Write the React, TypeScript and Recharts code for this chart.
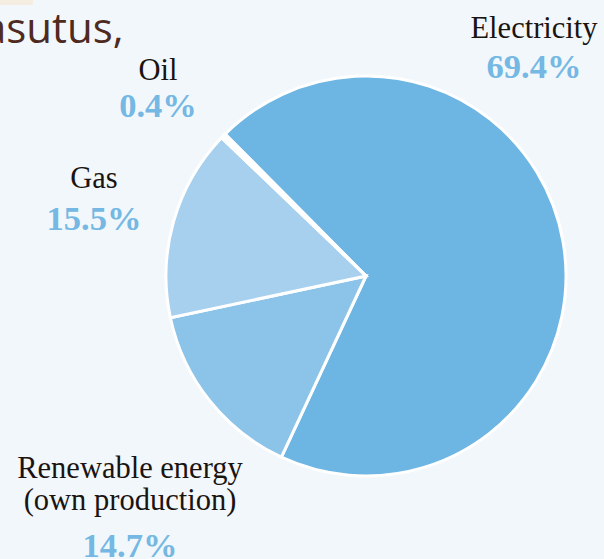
import React from "react";
import { PieChart, Pie, Cell } from "recharts";

// energy consumption shares, clockwise from the oil/electricity boundary
const categories = ["Electricity", "Renewable energy", "Gas", "Oil"];
const shares = [69.4, 14.7, 15.5, 0.4];
const nameLines = [
    ["Electricity"],
    ["Renewable energy", "(own production)"],
    ["Gas"],
    ["Oil"],
];
const percentLabels = ["69.4%", "14.7%", "15.5%", "0.4%"];
const sliceColors = ["#6db5e2", "#8cc3e8", "#a7cfee", "#ffffff"];

// label placement relative to the pie centre (layout only)
const labelAnchors = [
    { dx: 168, nameY: -238, pctY: -198 },
    { dx: -236, nameY: 202, pctY: 281 },
    { dx: -272, nameY: -88, pctY: -46 },
    { dx: -208, nameY: -196, pctY: -159 },
];

const chartData = categories.map((name, i) => ({ name, value: shares[i] }));

const BG = "#f2f7fc";

function renderLabel(props: any) {
    const { cx, cy, index } = props;
    const a = labelAnchors[index];
    const lines = nameLines[index];
    return (
        <g key={`lbl-${index}`}>
            <text
                x={cx + a.dx}
                y={cy + a.nameY}
                textAnchor="middle"
                fill="#1a1410"
                style={{ fontFamily: "'Liberation Serif', serif", fontSize: 30.5 }}
            >
                {lines.map((l, j) => (
                    <tspan key={j} x={cx + a.dx} dy={j === 0 ? 0 : 32}>
                        {l}
                    </tspan>
                ))}
            </text>
            <text
                x={cx + a.dx}
                y={cy + a.pctY}
                textAnchor="middle"
                fill="#74b8e3"
                style={{
                    fontFamily: "'Liberation Serif', serif",
                    fontWeight: "bold",
                    fontSize: 34.5,
                }}
            >
                {percentLabels[index]}
            </text>
        </g>
    );
}

export default function App() {
    return (
        <div
            style={{
                position: "fixed",
                left: 0,
                top: 0,
                width: 604,
                height: 559,
                background: BG,
                overflow: "hidden",
            }}
        >
            <svg
                width={604}
                height={559}
                style={{ position: "absolute", left: 0, top: 0 }}
            >
                <rect x={0} y={0} width={33} height={5} fill="#f5ede2" />
                <text
                    x={-17}
                    y={43}
                    fill="#4f2a1f"
                    fontFamily="'Open Sans', sans-serif"
                    fontSize={42}
                >
                    asutus,
                </text>
            </svg>
            <div style={{ position: "absolute", left: 0, top: 0 }}>
                <PieChart
                    width={604}
                    height={559}
                    margin={{ top: 0, right: 0, bottom: 0, left: 0 }}
                >
                    <Pie
                        data={chartData}
                        dataKey="value"
                        nameKey="name"
                        cx={366}
                        cy={276}
                        outerRadius={200}
                        startAngle={134.8}
                        endAngle={-225.2}
                        stroke="#ffffff"
                        strokeWidth={3}
                        label={renderLabel}
                        labelLine={false}
                        isAnimationActive={false}
                    >
                        {chartData.map((d, i) => (
                            <Cell key={d.name} fill={sliceColors[i]} />
                        ))}
                    </Pie>
                </PieChart>
            </div>
        </div>
    );
}
